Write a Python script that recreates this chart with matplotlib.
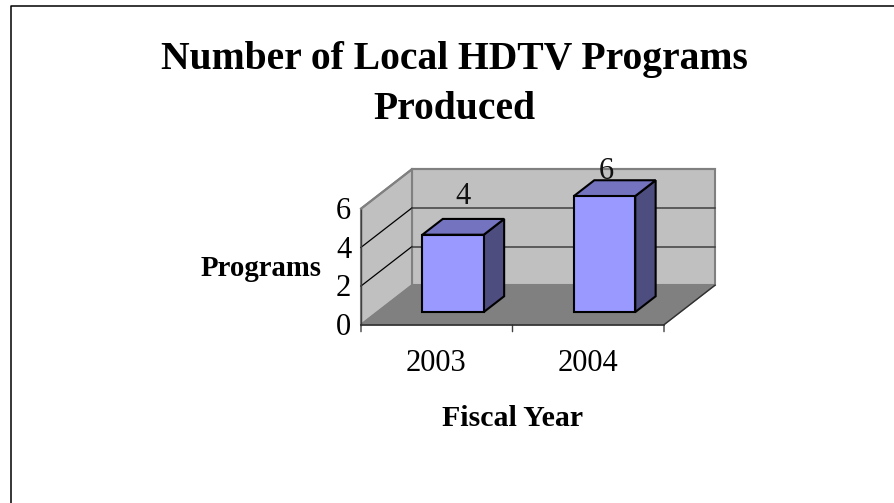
import matplotlib
matplotlib.use("Agg")
import matplotlib.pyplot as plt
from matplotlib.patches import Polygon

plt.rcParams['font.family'] = ['Liberation Serif', 'DejaVu Serif']

years = ["2003", "2004"]
programs = [4, 6]
y_ticks = [0, 2, 4, 6]

W, H = 895, 503
# plot box front edge in pixels
X0, X1, Y0, Y1 = 361, 664, 324.7, 208.7

# oblique depth, in data units (x categories / y values)
DX = 51 / ((X1 - X0) / len(years))
DY = 39.5 / ((Y0 - Y1) / y_ticks[-1])
BAR_W = 0.405
D0, D1 = 0.32, 0.72   # bar front and back, fraction of the depth

fig = plt.figure(figsize=(W / 100, H / 100), dpi=100)
ax = fig.add_axes([X0 / W, 1 - Y0 / H, (X1 - X0) / W, (Y0 - Y1) / H])
ax.set_xlim(0, len(years))
ax.set_ylim(0, y_ticks[-1])
ax.axis("off")


def proj(x, y, d=0.0):
    return (x + d * DX, y + d * DY)


def face(pts, color, edge, lw, z):
    ax.add_patch(Polygon(pts, closed=True, facecolor=color, edgecolor=edge,
                         linewidth=lw, clip_on=False, zorder=z, joinstyle="miter"))


n = len(years)
top = y_ticks[-1]

# walls and floor
face([proj(0, 0, 1), proj(n, 0, 1), proj(n, top, 1), proj(0, top, 1)], "#c0c0c0", "#808080", 1.5, 1)
face([proj(0, 0, 0), proj(0, 0, 1), proj(0, top, 1), proj(0, top, 0)], "#c0c0c0", "#808080", 1.5, 1)
face([proj(0, 0, 0), proj(n, 0, 0), proj(n, 0, 1), proj(0, 0, 1)], "#808080", "#808080", 1, 2)

# gridlines
for t in y_ticks[1:-1]:
    ax.plot(*zip(proj(0, t, 0), proj(0, t, 1)), color="black", lw=0.9, clip_on=False, zorder=3)
    ax.plot(*zip(proj(0, t, 1), proj(n, t, 1)), color="#404040", lw=1.1, clip_on=False, zorder=3)
ax.plot(*zip(proj(0, top, 1), proj(n, top, 1)), color="#808080", lw=1.5, clip_on=False, zorder=3)

# axis lines and ticks
ax.plot([0, 0], [0, top], color="#404040", lw=1.0, clip_on=False, zorder=4)
ax.plot(*zip(proj(0, top, 0), proj(0, top, 1)), color="#808080", lw=1.5, clip_on=False, zorder=4)
ax.plot([0, n], [0, 0], color="#303030", lw=1.2, clip_on=False, zorder=4)
ax.plot(*zip(proj(n, 0, 0), proj(n, 0, 1)), color="#303030", lw=1.0, clip_on=False, zorder=4)
for i in range(n + 1):
    ax.annotate("", xy=(i, 0), xytext=(0, -5), textcoords="offset points",
                arrowprops=dict(arrowstyle="-", color="#404040", lw=1, shrinkA=0, shrinkB=0))

# bars
for i, v in enumerate(programs):
    l, r = i + 0.5 - BAR_W / 2, i + 0.5 + BAR_W / 2
    z = 5 + i
    face([proj(r, 0, D0), proj(r, 0, D1), proj(r, v, D1), proj(r, v, D0)], "#4d4d80", "black", 1.5, z)
    face([proj(l, v, D0), proj(r, v, D0), proj(r, v, D1), proj(l, v, D1)], "#7373bf", "black", 1.5, z)
    face([proj(l, 0, D0), proj(r, 0, D0), proj(r, v, D0), proj(l, v, D0)], "#9999ff", "black", 1.5, z)

# value labels sit at different offsets above the bars in the original
label_offsets = [(7.2, 22), (1.5, 12)]
for i, v in enumerate(programs):
    ax.annotate(str(v), xy=proj(i + 0.5, v, D0), xytext=label_offsets[i],
                textcoords="offset points", ha="center", va="baseline", fontsize=22, zorder=8,
                color="#111111", annotation_clip=False)

# tick labels
for t in y_ticks:
    ax.annotate(str(t), xy=(0, t), xytext=(-7, 0.5), textcoords="offset points", ha="right",
                va="center_baseline", fontsize=22, annotation_clip=False)
for i, y in enumerate(years):
    ax.annotate(y, xy=(i + 0.5, 0), xytext=(-0.3, -17.5), textcoords="offset points", ha="center",
                va="top", fontsize=22, annotation_clip=False)

# titles
fig.text(454 / W, 1 - 60 / H, "Number of Local HDTV Programs", ha="center", va="center",
         fontsize=28.5, fontweight="bold")
fig.text(454 / W, 1 - 109.5 / H, "Produced", ha="center", va="center", fontsize=28.5, fontweight="bold")
fig.text(261 / W, 1 - 269 / H, "Programs", ha="center", va="center", fontsize=20.7, fontweight="bold")
fig.text(513 / W, 1 - 418 / H, "Fiscal Year", ha="center", va="center", fontsize=21.5, fontweight="bold")

# slide border, top and left only
fig.add_artist(plt.Line2D([1, 11.5 / W, 11.5 / W], [1 - 5.5 / H, 1 - 5.5 / H, 0],
                          color="black", lw=1.1, transform=fig.transFigure))

fig.savefig("out.png", dpi=100)
